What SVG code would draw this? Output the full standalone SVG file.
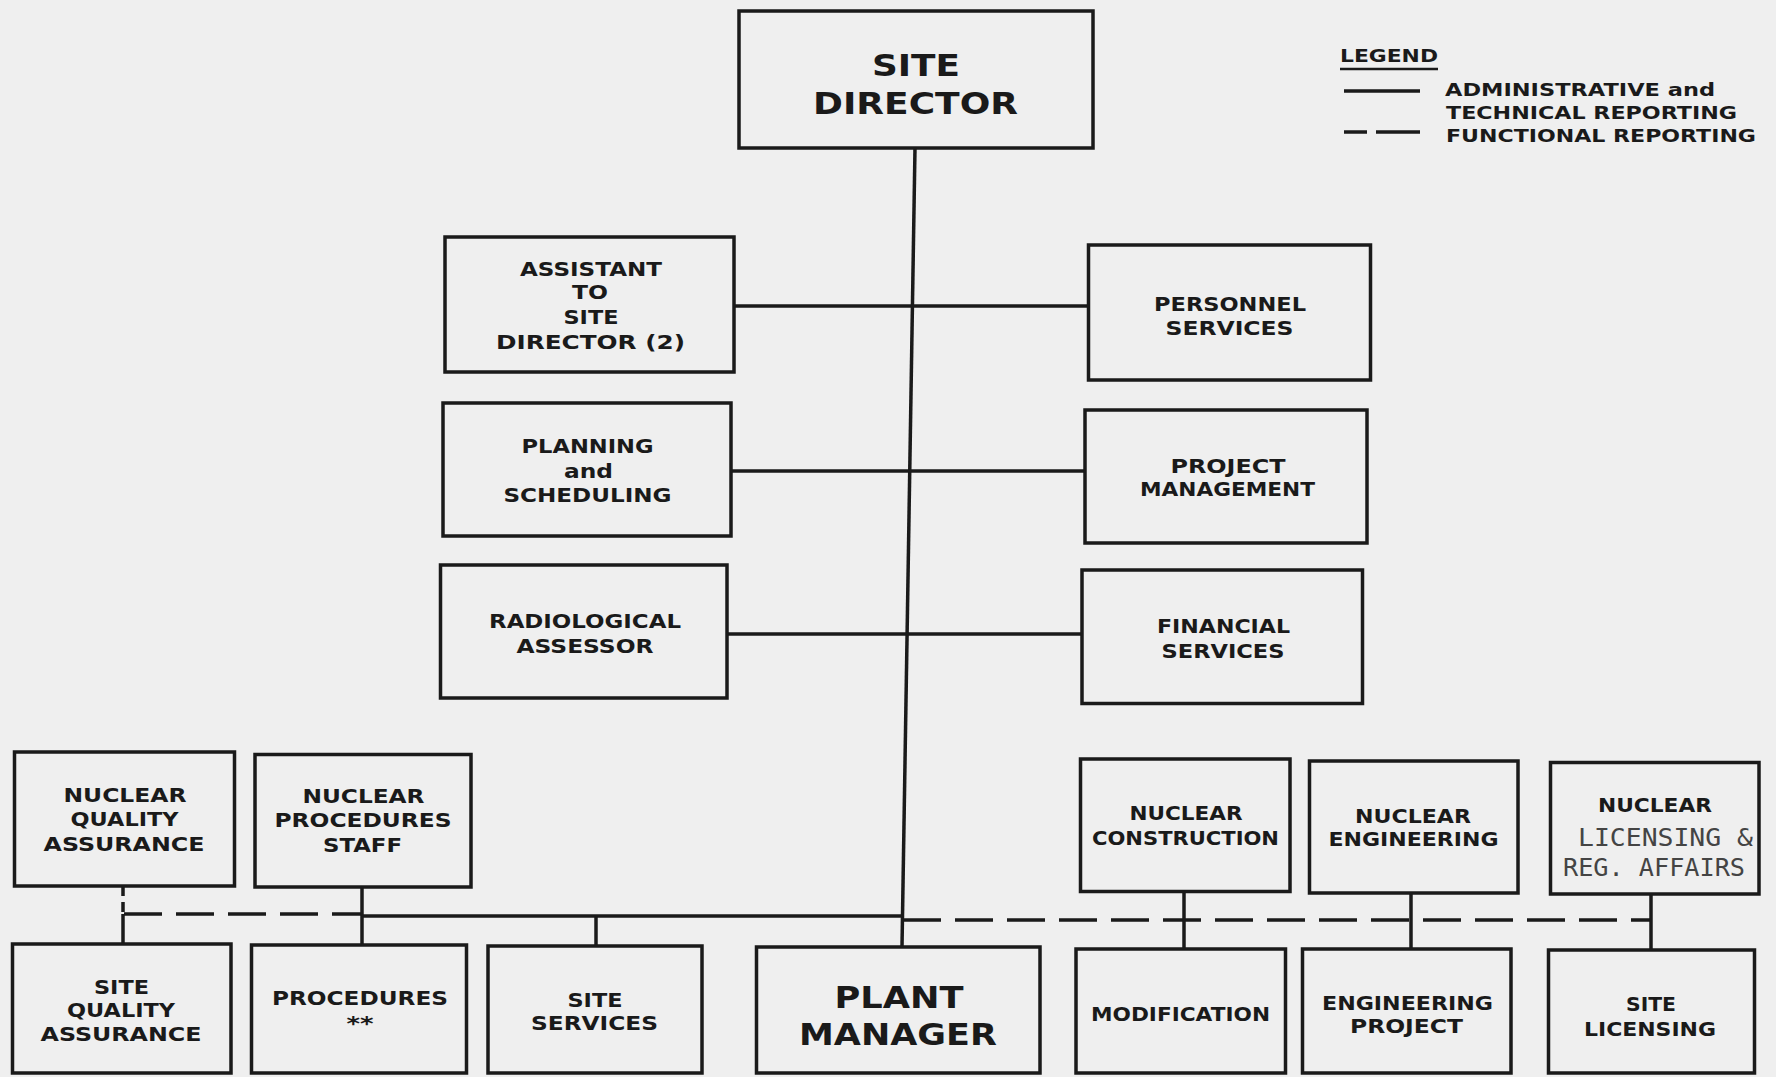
<svg xmlns="http://www.w3.org/2000/svg" width="1776" height="1077" viewBox="0 0 1776 1077">
<style>
.bg{fill:#efefef}
.box{fill:none;stroke:#1a1a1a;stroke-width:3.5}
.ln{fill:none;stroke:#1a1a1a;stroke-width:3.5}
.dash{stroke-dasharray:38 14}
.sdash{stroke-dasharray:10 6}
text{font-family:"DejaVu Sans","Liberation Sans",sans-serif;font-weight:bold;font-size:19px;fill:#1a1a1a;text-anchor:middle}
.big{font-size:31px}
.mono{font-family:"DejaVu Sans Mono","Liberation Mono",monospace;font-weight:normal;font-size:25px;fill:#444}
.lg{font-size:18px;text-anchor:start}
</style>
<rect class="bg" x="0" y="0" width="1776" height="1077"/>

<g id="connectors">
  <line class="ln" x1="915" y1="148" x2="902" y2="947"/>
  <line class="ln" x1="734" y1="306" x2="1088" y2="306"/>
  <line class="ln" x1="731" y1="471" x2="1085" y2="471"/>
  <line class="ln" x1="727" y1="634" x2="1082" y2="634"/>
  <line class="ln" x1="362" y1="916" x2="903" y2="916"/>
  <line class="ln dash" x1="124" y1="914" x2="362" y2="914"/>
  <line class="ln dash" x1="903" y1="920" x2="1651" y2="920"/>
  <line class="ln sdash" x1="123" y1="886" x2="123" y2="914"/>
  <line class="ln" x1="123" y1="914" x2="123" y2="944"/>
  <line class="ln" x1="362" y1="887" x2="362" y2="945"/>
  <line class="ln" x1="596" y1="916" x2="596" y2="946"/>
  <line class="ln" x1="1184" y1="891" x2="1184" y2="949"/>
  <line class="ln" x1="1411" y1="893" x2="1411" y2="949"/>
  <line class="ln" x1="1651" y1="894" x2="1651" y2="950"/>
</g>

<g id="legend">
  <text class="lg" x="1340" y="61.5" textLength="98" lengthAdjust="spacingAndGlyphs" style="font-size:17px">LEGEND</text>
  <line x1="1340" y1="69" x2="1438" y2="69" stroke="#1a1a1a" stroke-width="2.5"/>
  <line class="ln" x1="1344" y1="91" x2="1420" y2="91"/>
  <line class="ln" x1="1344" y1="132" x2="1367" y2="132"/>
  <line class="ln" x1="1376" y1="132" x2="1420" y2="132"/>
  <text class="lg" x="1445" y="95.5" textLength="270" lengthAdjust="spacingAndGlyphs">ADMINISTRATIVE and</text>
  <text class="lg" x="1446" y="118.5" textLength="291" lengthAdjust="spacingAndGlyphs">TECHNICAL REPORTING</text>
  <text class="lg" x="1446" y="141.5" textLength="310" lengthAdjust="spacingAndGlyphs">FUNCTIONAL REPORTING</text>
</g>

<g id="site-director">
  <rect class="box" x="739" y="11" width="354" height="137"/>
  <text class="big" x="916" y="76" textLength="88" lengthAdjust="spacingAndGlyphs">SITE</text>
  <text class="big" x="915.5" y="113.5" textLength="205" lengthAdjust="spacingAndGlyphs">DIRECTOR</text>
</g>

<g id="assistant">
  <rect class="box" x="445" y="237" width="289" height="135"/>
  <text x="591" y="275.5" textLength="142" lengthAdjust="spacingAndGlyphs">ASSISTANT</text>
  <text x="590" y="299" textLength="36" lengthAdjust="spacingAndGlyphs">TO</text>
  <text x="591" y="324" textLength="55" lengthAdjust="spacingAndGlyphs">SITE</text>
  <text x="590.5" y="349" textLength="189" lengthAdjust="spacingAndGlyphs">DIRECTOR (2)</text>
</g>

<g id="personnel">
  <rect class="box" x="1088.5" y="245" width="282" height="135"/>
  <text x="1230" y="310.5" textLength="152" lengthAdjust="spacingAndGlyphs">PERSONNEL</text>
  <text x="1229.5" y="334.5" textLength="128" lengthAdjust="spacingAndGlyphs">SERVICES</text>
</g>

<g id="planning">
  <rect class="box" x="443" y="403" width="288" height="133"/>
  <text x="587.5" y="453" textLength="132" lengthAdjust="spacingAndGlyphs">PLANNING</text>
  <text x="588.5" y="478" textLength="49" lengthAdjust="spacingAndGlyphs">and</text>
  <text x="587.5" y="502" textLength="168" lengthAdjust="spacingAndGlyphs">SCHEDULING</text>
</g>

<g id="project-management">
  <rect class="box" x="1085" y="410" width="282" height="133"/>
  <text x="1228" y="472.5" textLength="115" lengthAdjust="spacingAndGlyphs">PROJECT</text>
  <text x="1227.5" y="496" textLength="175" lengthAdjust="spacingAndGlyphs">MANAGEMENT</text>
</g>

<g id="radiological">
  <rect class="box" x="440.5" y="565" width="286.5" height="133"/>
  <text x="585" y="627.5" textLength="192" lengthAdjust="spacingAndGlyphs">RADIOLOGICAL</text>
  <text x="585" y="652.5" textLength="137" lengthAdjust="spacingAndGlyphs">ASSESSOR</text>
</g>

<g id="financial">
  <rect class="box" x="1082" y="570" width="280.5" height="133.5"/>
  <text x="1223.5" y="633" textLength="133" lengthAdjust="spacingAndGlyphs">FINANCIAL</text>
  <text x="1223" y="658" textLength="123" lengthAdjust="spacingAndGlyphs">SERVICES</text>
</g>

<g id="nuclear-qa">
  <rect class="box" x="14.5" y="752" width="220" height="134"/>
  <text x="125" y="802" textLength="123" lengthAdjust="spacingAndGlyphs">NUCLEAR</text>
  <text x="124.5" y="826" textLength="108" lengthAdjust="spacingAndGlyphs">QUALITY</text>
  <text x="124" y="851" textLength="161" lengthAdjust="spacingAndGlyphs">ASSURANCE</text>
</g>

<g id="nuclear-procedures-staff">
  <rect class="box" x="255" y="754.5" width="216" height="132.5"/>
  <text x="363.5" y="803" textLength="122" lengthAdjust="spacingAndGlyphs">NUCLEAR</text>
  <text x="363" y="827" textLength="177" lengthAdjust="spacingAndGlyphs">PROCEDURES</text>
  <text x="362.5" y="852" textLength="79" lengthAdjust="spacingAndGlyphs">STAFF</text>
</g>

<g id="nuclear-construction">
  <rect class="box" x="1080.5" y="759" width="209.5" height="132.5"/>
  <text x="1186" y="820" textLength="113" lengthAdjust="spacingAndGlyphs">NUCLEAR</text>
  <text x="1185.5" y="845" textLength="187" lengthAdjust="spacingAndGlyphs">CONSTRUCTION</text>
</g>

<g id="nuclear-engineering">
  <rect class="box" x="1309.5" y="761" width="208.5" height="132"/>
  <text x="1413" y="822.5" textLength="116" lengthAdjust="spacingAndGlyphs">NUCLEAR</text>
  <text x="1413.5" y="846" textLength="170" lengthAdjust="spacingAndGlyphs">ENGINEERING</text>
</g>

<g id="nuclear-licensing">
  <rect class="box" x="1550.5" y="762.5" width="208.5" height="131.5"/>
  <text x="1655" y="812" textLength="114" lengthAdjust="spacingAndGlyphs">NUCLEAR</text>
  <text class="mono" x="1665.5" y="846" textLength="175" lengthAdjust="spacingAndGlyphs">LICENSING &amp;</text>
  <text class="mono" x="1654" y="875.5" textLength="182" lengthAdjust="spacingAndGlyphs">REG. AFFAIRS</text>
</g>

<g id="site-qa">
  <rect class="box" x="12.5" y="944" width="218.5" height="129"/>
  <text x="121.5" y="993.5" textLength="55" lengthAdjust="spacingAndGlyphs">SITE</text>
  <text x="121" y="1017" textLength="108" lengthAdjust="spacingAndGlyphs">QUALITY</text>
  <text x="121" y="1041" textLength="161" lengthAdjust="spacingAndGlyphs">ASSURANCE</text>
</g>

<g id="procedures">
  <rect class="box" x="251.5" y="945" width="215" height="128"/>
  <text x="360" y="1005" textLength="176" lengthAdjust="spacingAndGlyphs">PROCEDURES</text>
  <text x="360" y="1030" textLength="27" lengthAdjust="spacingAndGlyphs">**</text>
</g>

<g id="site-services">
  <rect class="box" x="488" y="946" width="214" height="127"/>
  <text x="595" y="1007" textLength="55" lengthAdjust="spacingAndGlyphs">SITE</text>
  <text x="594.5" y="1030" textLength="127" lengthAdjust="spacingAndGlyphs">SERVICES</text>
</g>

<g id="plant-manager">
  <rect class="box" x="756.5" y="947" width="283.5" height="126"/>
  <text class="big" x="899" y="1007.5" textLength="129" lengthAdjust="spacingAndGlyphs" style="font-size:30px">PLANT</text>
  <text class="big" x="898" y="1045" textLength="198" lengthAdjust="spacingAndGlyphs" style="font-size:30px">MANAGER</text>
</g>

<g id="modification">
  <rect class="box" x="1076" y="949" width="209.5" height="124"/>
  <text x="1180.5" y="1021" textLength="179" lengthAdjust="spacingAndGlyphs">MODIFICATION</text>
</g>

<g id="engineering-project">
  <rect class="box" x="1302.5" y="949" width="208.5" height="124"/>
  <text x="1407.5" y="1009.5" textLength="171" lengthAdjust="spacingAndGlyphs">ENGINEERING</text>
  <text x="1406.5" y="1033" textLength="113" lengthAdjust="spacingAndGlyphs">PROJECT</text>
</g>

<g id="site-licensing">
  <rect class="box" x="1548.5" y="950" width="206" height="123"/>
  <text x="1651" y="1010.5" textLength="50" lengthAdjust="spacingAndGlyphs">SITE</text>
  <text x="1650" y="1035.5" textLength="132" lengthAdjust="spacingAndGlyphs">LICENSING</text>
</g>
</svg>
